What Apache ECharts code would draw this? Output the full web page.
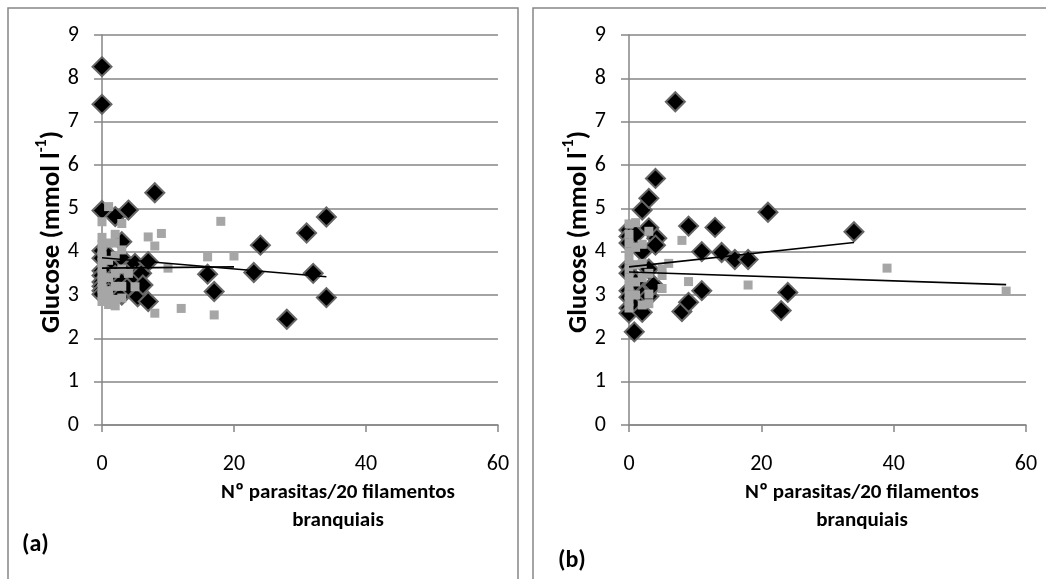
<!DOCTYPE html>
<html>
<head>
<meta charset="utf-8">
<script src="https://cdn.jsdelivr.net/npm/echarts@6/dist/echarts.min.js"></script>
<style>
html,body{margin:0;padding:0;background:#fff;}
#c{width:1046px;height:579px;}
</style>
</head>
<body>
<div id="c"></div>
<script>
// ---------- data ----------
var xTicks = [0, 20, 40, 60];
var yTicks = [0, 1, 2, 3, 4, 5, 6, 7, 8, 9];

// panel (a)
var blackA = [
  [0,8.27],[0,7.40],[0,4.95],[0,4.02],[0,3.85],[0,3.56],[0,3.45],[0,3.3],[0,3.2],[0,3.1],[0,3.02],
  [1,3.9],[1,3.6],[1,3.3],[1,3.15],[1,3.05],
  [2,4.81],[2,3.7],[2,3.45],[2,3.1],
  [3,4.23],[3,3.85],[3,3.3],[3,3.0],
  [4,4.96],[4,3.6],[4,3.2],
  [5,3.73],[5,3.42],[5.4,2.96],
  [6,3.5],[6.2,3.23],
  [7,3.77],[7,2.85],
  [8,5.36],
  [16,3.48],[17,3.08],[23,3.52],[24,4.15],[28,2.44],[31,4.43],[32,3.50],[34,4.80],[34,2.94]
];
var grayA = [
  [0,4.69],[0,4.33],[0,4.17],[0,4.0],[0,3.9],[0,3.75],[0,3.6],[0,3.45],[0,3.3],[0,3.15],[0,3.0],[0,2.85],
  [1,5.04],[1,4.2],[1,3.8],[1,3.4],[1,3.1],[1,2.95],[1,2.78],
  [2,4.4],[2,4.2],[2,3.9],[2,3.5],[2,3.2],[2,2.9],[2,2.75],
  [3,4.65],[3,4.04],[3,3.6],[3,3.2],[3,2.93],
  [4,3.5],[5,3.19],
  [7,4.34],[8,4.13],[8,2.58],[9,4.42],[10,3.62],[12,2.69],
  [16,3.88],[17,2.54],[18,4.70],[20,3.9]
];
var trendBlackA = [[0,3.86],[34,3.42]];
var trendGrayA = [[0,3.62],[20,3.65]];

// panel (b)
var blackB = [
  [0,4.5],[0,4.35],[0,4.2],[0,3.65],[0,3.5],[0,3.1],[0,2.95],[0,2.7],[0,2.58],
  [1,4.4],[1,3.3],[1,2.8],[0.8,2.15],
  [2,4.96],[2,4.0],[2,3.0],[2,2.6],
  [3,5.23],[3,4.55],[3,3.6],[3,2.97],
  [4,5.69],[4.2,4.31],[4,4.15],[3.7,3.23],
  [7,7.46],[8,2.62],[9,4.59],[9,2.83],[11,4.0],[11,3.1],[13,4.56],[14,3.98],[16,3.82],[18,3.82],
  [21,4.91],[23,2.64],[24,3.06],[34,4.46]
];
var grayB = [
  [0,4.64],[0,4.4],[0,4.2],[0,4.0],[0,3.8],[0,3.6],[0,3.4],[0,3.2],[0,3.0],[0,2.85],[0,2.7],
  [1,4.67],[1,4.1],[1,3.7],[1,3.3],[1,3.0],
  [2,4.17],[2,3.73],[2,3.4],[2,2.77],
  [3,4.47],[3,3.5],[3,3.02],[3,2.8],
  [5,3.6],[5,3.45],[5,3.15],[6,3.73],[8,4.26],[9,3.31],[18,3.23],[39,3.62],[57,3.09]
];
var trendBlackB = [[0,3.65],[34,4.21]];
var trendGrayB = [[0,3.53],[57,3.24]];

var xTitle1 = 'Nº parasitas/20 filamentos';
var xTitle2 = 'branquiais';
var yTitleMain = 'Glucose (mmol l';
var yTitleSup = '-1';
var panelLabels = ['(a)', '(b)'];

// ---------- style ----------
var FONT = 'Carlito, Lato, "Open Sans", sans-serif';
var GRID_C = '#868686';

function xAxisCfg(idx) {
  return {
    type: 'value', gridIndex: idx, min: xTicks[0], max: xTicks[xTicks.length-1], interval: 20,
    axisLine: {show: true, onZero: false, lineStyle: {color: GRID_C, width: 1.5}},
    axisTick: {show: true, inside: false, length: 7, lineStyle: {color: GRID_C, width: 1.5}},
    splitLine: {show: false},
    axisLabel: {color: '#000', fontFamily: FONT, fontSize: 22, margin: 28}
  };
}
function yAxisCfg(idx) {
  return {
    type: 'value', gridIndex: idx, min: yTicks[0], max: yTicks[yTicks.length-1], interval: 1,
    axisLine: {show: true, onZero: false, lineStyle: {color: GRID_C, width: 1.5}},
    axisTick: {show: true, inside: false, length: 8, lineStyle: {color: GRID_C, width: 1.5}},
    splitLine: {show: true, lineStyle: {color: GRID_C, width: 1.5}},
    axisLabel: {color: '#000', fontFamily: FONT, fontSize: 22, margin: 23}
  };
}
function diamonds(data, idx) {
  return {type: 'scatter', xAxisIndex: idx, yAxisIndex: idx, data: data, symbol: 'diamond', symbolSize: 19,
    itemStyle: {color: '#000', borderColor: '#666666', borderWidth: 2, opacity: 1}, z: 2, animation: false};
}
function squares(data, idx) {
  return {type: 'scatter', xAxisIndex: idx, yAxisIndex: idx, data: data, symbol: 'rect', symbolSize: 9,
    itemStyle: {color: '#a6a6a6', opacity: 1}, z: 3, animation: false};
}
function trend(data, idx) {
  return {type: 'line', xAxisIndex: idx, yAxisIndex: idx, data: data, symbol: 'none',
    lineStyle: {color: '#000', width: 1.6}, z: 4, animation: false};
}

function yTitle(x) {
  return {
    type: 'text', x: x, y: 232, rotation: Math.PI/2,
    style: {
      text: '{m|' + yTitleMain + '}{s|' + yTitleSup + '}{m|)}',
      align: 'center', verticalAlign: 'middle',
      rich: {
        m: {fontFamily: FONT, fontSize: 27, fontWeight: 'bold', fill: '#000', lineHeight: 32, verticalAlign: 'bottom'},
        s: {fontFamily: FONT, fontSize: 16, fontWeight: 'bold', fill: '#000', lineHeight: 32, verticalAlign: 'top'}
      }
    }
  };
}
function xTitle(cx) {
  return [
    {type: 'text', x: cx, y: 493, style: {text: xTitle1, align: 'center', verticalAlign: 'middle', font: 'bold 21px ' + FONT, fill: '#000'}},
    {type: 'text', x: cx, y: 521, style: {text: xTitle2, align: 'center', verticalAlign: 'middle', font: 'bold 21px ' + FONT, fill: '#000'}}
  ];
}

var chart = echarts.init(document.getElementById('c'), null, {renderer: 'canvas'});
chart.setOption({
  animation: false,
  backgroundColor: '#fff',
  grid: [
    {left: 102, top: 35, width: 396, height: 390},
    {left: 629, top: 35, width: 397, height: 390}
  ],
  xAxis: [xAxisCfg(0), xAxisCfg(1)],
  yAxis: [yAxisCfg(0), yAxisCfg(1)],
  series: [
    diamonds(blackA, 0), squares(grayA, 0), trend(trendBlackA, 0), trend(trendGrayA, 0),
    diamonds(blackB, 1), squares(grayB, 1), trend(trendBlackB, 1), trend(trendGrayB, 1)
  ],
  graphic: [
    {type: 'rect', shape: {x: 8, y: 8, width: 510, height: 600}, style: {fill: 'none', stroke: GRID_C, lineWidth: 1.5}, silent: true},
    {type: 'rect', shape: {x: 533, y: 8, width: 520, height: 600}, style: {fill: 'none', stroke: GRID_C, lineWidth: 1.5}, silent: true},
    yTitle(50), yTitle(577)
  ].concat(xTitle(338)).concat(xTitle(862)).concat([
    {type: 'text', x: 22, y: 545, style: {text: panelLabels[0], verticalAlign: 'middle', font: 'bold 24px ' + FONT, fill: '#000'}},
    {type: 'text', x: 558, y: 561, style: {text: panelLabels[1], verticalAlign: 'middle', font: 'bold 24px ' + FONT, fill: '#000'}}
  ])
});
</script>
</body>
</html>
